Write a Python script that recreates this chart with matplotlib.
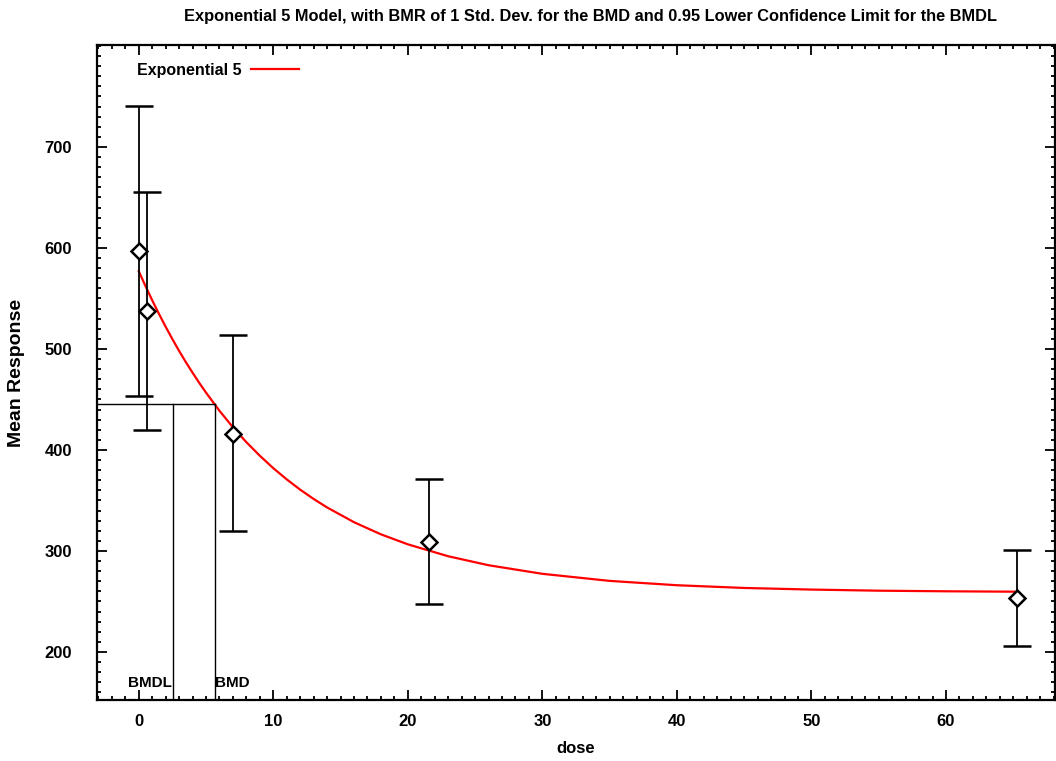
import matplotlib.pyplot as plt
from matplotlib.ticker import MultipleLocator

plt.rcParams['font.family'] = ['Liberation Sans', 'DejaVu Sans']

# observed group means with error bar limits
dose = [0, 0.6, 7.0, 21.6, 65.3]
mean_resp = [597, 538, 416, 309, 253]
err_low = [453, 420, 320, 248, 206]
err_high = [741, 655, 514, 371, 301]

# fitted Exponential 5 curve
curve_dose = [0, 0.5, 1, 1.5, 2, 2.5, 3, 3.5, 4, 4.5, 5, 6, 7, 8, 9, 10, 11,
              12, 13, 14, 16, 18, 20, 23, 26, 30, 35, 40, 45, 50, 55, 60, 65.3]
curve_resp = [577, 562.3, 548.2, 534.8, 522.0, 509.8, 498.1, 487.0, 476.5,
              466.4, 456.8, 438.8, 422.5, 407.7, 394.3, 382.0, 370.9, 360.7,
              351.5, 343.1, 328.5, 316.5, 306.6, 294.8, 285.9, 277.4, 270.4,
              266.1, 263.4, 261.8, 260.7, 260.1, 259.7]

bmd = 5.65
bmdl = 2.53
bmr_resp = 446

fig = plt.figure(figsize=(10.56, 7.61), dpi=100)
ax = fig.add_axes([0.0919, 0.0802, 0.9071, 0.8607])

ax.plot(curve_dose, curve_resp, color='#ff0000', lw=1.6, label='Exponential 5')

yerr = [[m - lo for m, lo in zip(mean_resp, err_low)],
        [hi - m for m, hi in zip(mean_resp, err_high)]]
ax.errorbar(dose, mean_resp, yerr=yerr, fmt='none', ecolor='black',
            elinewidth=1.3, capsize=10, capthick=1.8, zorder=3)
ax.plot(dose, mean_resp, 'D', ms=8, mfc='white', mec='black', mew=1.8,
        zorder=4, label='_nolegend_')

xmin, xmax = -3.1, 68.1
ymin, ymax = 152.5, 801
ax.set_xlim(xmin, xmax)
ax.set_ylim(ymin, ymax)

# BMD / BMDL markers
ax.plot([xmin, bmd], [bmr_resp, bmr_resp], color='black', lw=1)
ax.plot([bmdl, bmdl], [ymin, bmr_resp], color='black', lw=1)
ax.plot([bmd, bmd], [ymin, bmr_resp], color='black', lw=1)
ax.text(bmdl - 0.1, 169, 'BMDL', ha='right', va='center', fontsize=11,
        fontweight='bold')
ax.text(bmd, 169, 'BMD', ha='left', va='center', fontsize=11,
        fontweight='bold')

ax.xaxis.set_major_locator(MultipleLocator(10))
ax.xaxis.set_minor_locator(MultipleLocator(1))
ax.yaxis.set_major_locator(MultipleLocator(100))
ax.yaxis.set_minor_locator(MultipleLocator(10))
ax.set_yticks([200, 300, 400, 500, 600, 700])
ax.tick_params(which='both', direction='in', top=True, right=True,
               width=1.3)
ax.tick_params(which='major', length=7, labelsize=12)
ax.tick_params(which='minor', length=3)
ax.tick_params(axis='x', pad=10)
ax.tick_params(axis='y', pad=18)
for lab in ax.get_xticklabels() + ax.get_yticklabels():
    lab.set_fontweight('bold')
for s in ax.spines.values():
    s.set_linewidth(1.6)

ax.set_xlabel('dose', fontsize=12, fontweight='bold', labelpad=9)
ax.set_ylabel('Mean Response', fontsize=14, fontweight='bold', labelpad=14)

fig.text(590 / 1056, 1 - 17 / 761,
         'Exponential 5 Model, with BMR of 1 Std. Dev. for the BMD and 0.95 '
         'Lower Confidence Limit for the BMDL',
         ha='center', va='center', fontsize=11.8, fontweight='bold')

ax.legend(loc='upper left', frameon=False, markerfirst=False,
          prop={'size': 11.5, 'weight': 'bold'}, handletextpad=0.6,
          handlelength=3.0, borderaxespad=0.3, bbox_to_anchor=(0.03, 0.99))

fig.savefig('out.png', dpi=100)
